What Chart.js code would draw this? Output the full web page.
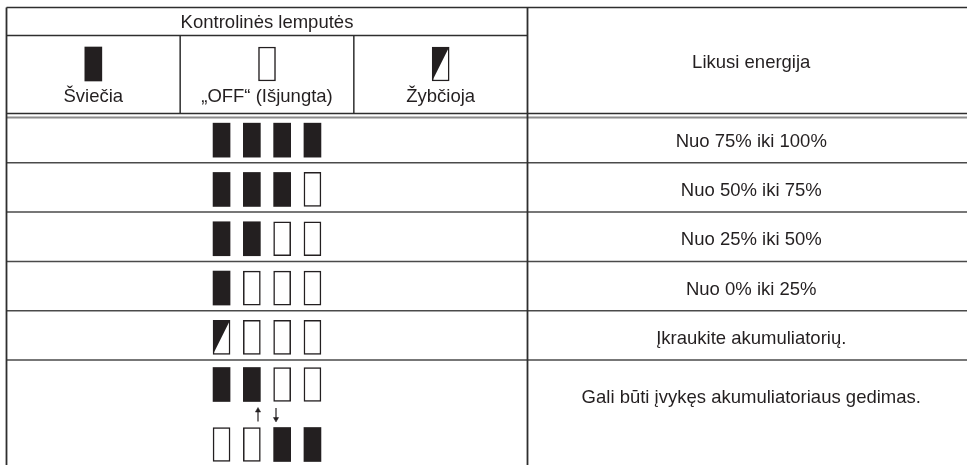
<!DOCTYPE html>
<html>
<head>
<meta charset="utf-8">
<script src="https://cdn.jsdelivr.net/npm/chart.js@4/dist/chart.umd.min.js"></script>
<style>
  html, body { margin: 0; padding: 0; background: #fff; }
  canvas { display: block; }
</style>
</head>
<body>
<canvas id="canvas" width="967" height="465"></canvas>
<script>
// header texts
var titleText = 'Kontrolinės lemputės';
var energyTitle = 'Likusi energija';
// legend: lamp state and its name
var legendStates = ['on', 'off', 'flash'];
var legendLabels = ['Šviečia', '„OFF“ (Išjungta)', 'Žybčioja'];
// lamp states for each row and the remaining energy text
var rowLamps = [
    ['on', 'on', 'on', 'on'],
    ['on', 'on', 'on', 'off'],
    ['on', 'on', 'off', 'off'],
    ['on', 'off', 'off', 'off'],
    ['flash', 'off', 'off', 'off']
];
var rowTexts = [
    'Nuo 75% iki 100%',
    'Nuo 50% iki 75%',
    'Nuo 25% iki 50%',
    'Nuo 0% iki 25%',
    'Įkraukite akumuliatorių.'
];
// last row: two lamp lines switching back and forth
var faultLamps = [
    ['on', 'on', 'off', 'off'],
    ['off', 'off', 'on', 'on']
];
var faultArrows = ['up', 'down'];
var faultText = 'Gali būti įvykęs akumuliatoriaus gedimas.';

// table geometry (scale units)
var W = 967, H = 465;
var tableLeft = 6.5, tableRight = 975, divider = 527.5;
var topLine = 7.5, titleLine = 35.5, headLine = 113.5, headLine2 = 117.5;
var rowHeight = 49.3, contentShift = 2;
var lampW = 17, lampH = 34, lampStep = 30.3;
var legendLampY = 64;
var faultTop = headLine + rowLamps.length * rowHeight;
var ink = '#231f20';
var font = '18.5px "Liberation Sans", Arial, sans-serif';

function lampX(j) { return (tableLeft + divider) / 2 + (j - 1.5) * lampStep; }
function legendX(k) { return tableLeft + (divider - tableLeft) * (k + 0.5) / 3; }
function rowMid(i) { return headLine + (i + 0.5) * rowHeight + contentShift; }
function lamp(x, cy) { return {x: x, y: [cy - lampH / 2, cy + lampH / 2]}; }

// collect the lamps per state
var lamps = {on: [], off: [], flash: []};
legendStates.forEach((s, k) => lamps[s].push(lamp(legendX(k), legendLampY)));
rowLamps.forEach((row, i) => row.forEach((s, j) => lamps[s].push(lamp(lampX(j), rowMid(i)))));
var faultMids = [faultTop + 24.5, faultTop + 84.5];
faultLamps.forEach((row, i) => row.forEach((s, j) => lamps[s].push(lamp(lampX(j), faultMids[i]))));

var datasets = [
    {lampState: 'on', data: lamps.on, backgroundColor: ink, borderWidth: 0},
    {lampState: 'off', data: lamps.off, backgroundColor: '#fff', borderColor: ink, borderWidth: 1.5},
    {lampState: 'flash', data: lamps.flash, backgroundColor: '#fff', borderColor: ink, borderWidth: 1.5}
].map(d => Object.assign(d, {type: 'bar', barThickness: lampW, grouped: false, borderSkipped: false}));

// arrows between the two lamp lines
var arrowTip = faultTop + 48, arrowTail = faultTop + 61.5, arrowGap = 9;
faultArrows.forEach((dir, i) => {
    var x = (tableLeft + divider) / 2 + (i === 0 ? -arrowGap : arrowGap);
    var head = dir === 'up' ? arrowTip + 2.5 : arrowTail - 2.5;
    var tail = dir === 'up' ? arrowTail : arrowTip;
    datasets.push({
        type: 'line',
        data: [{x: x, y: head}, {x: x, y: tail}],
        borderColor: ink, borderWidth: 1.2,
        pointStyle: 'triangle', pointRadius: [3, 0],
        pointRotation: dir === 'up' ? 0 : 180,
        pointBackgroundColor: ink, pointBorderColor: ink, pointBorderWidth: 0.5
    });
});

function line(ctx, xs, ys, x1, y1, x2, y2, color, width) {
    ctx.beginPath();
    ctx.strokeStyle = color;
    ctx.lineWidth = width;
    ctx.moveTo(xs.getPixelForValue(x1), ys.getPixelForValue(y1));
    ctx.lineTo(xs.getPixelForValue(x2), ys.getPixelForValue(y2));
    ctx.stroke();
}

var tablePlugin = {
    id: 'table',
    beforeDatasetsDraw(chart) {
        var ctx = chart.ctx, xs = chart.scales.x, ys = chart.scales.y;
        ctx.save();
        line(ctx, xs, ys, tableLeft, topLine, tableRight, topLine, '#2e2e2e', 1.5);
        line(ctx, xs, ys, tableLeft, titleLine, divider, titleLine, '#2e2e2e', 1.5);
        line(ctx, xs, ys, tableLeft, headLine, tableRight, headLine, '#2e2e2e', 1.5);
        line(ctx, xs, ys, tableLeft, headLine2, tableRight, headLine2, '#8c8c8c', 2);
        for (var k = 1; k < 3; k++) {
            var x = tableLeft + (divider - tableLeft) * k / 3;
            line(ctx, xs, ys, x, titleLine, x, headLine, '#2e2e2e', 1.5);
        }
        for (var i = 1; i <= rowLamps.length; i++) {
            var y = headLine + i * rowHeight;
            line(ctx, xs, ys, tableLeft, y, tableRight, y, '#4a4a4a', 1.5);
        }
        line(ctx, xs, ys, tableLeft, topLine, tableLeft, H + 5, '#2e2e2e', 1.8);
        line(ctx, xs, ys, divider, topLine, divider, H + 5, '#2e2e2e', 1.8);
        ctx.restore();
    },
    afterDatasetsDraw(chart) {
        var ctx = chart.ctx, xs = chart.scales.x, ys = chart.scales.y;
        ctx.save();
        // half filled flashing lamps
        chart.data.datasets.forEach((ds, di) => {
            if (ds.lampState !== 'flash') return;
            chart.getDatasetMeta(di).data.forEach(el => {
                var p = el.getProps(['x', 'y', 'base', 'width'], true);
                var l = p.x - p.width / 2, r = p.x + p.width / 2;
                var t = Math.min(p.y, p.base), b = Math.max(p.y, p.base);
                ctx.beginPath();
                ctx.fillStyle = ink;
                ctx.moveTo(l, t); ctx.lineTo(r, t); ctx.lineTo(l, b);
                ctx.closePath();
                ctx.fill();
            });
        });
        // texts
        ctx.font = font;
        ctx.fillStyle = ink;
        ctx.textAlign = 'center';
        ctx.textBaseline = 'middle';
        var rightMid = xs.getPixelForValue((divider + tableRight) / 2);
        ctx.fillText(titleText, xs.getPixelForValue((tableLeft + divider) / 2), ys.getPixelForValue((topLine + titleLine) / 2 + 1));
        legendLabels.forEach((t, k) => ctx.fillText(t, xs.getPixelForValue(legendX(k)), ys.getPixelForValue(97)));
        ctx.fillText(energyTitle, rightMid, ys.getPixelForValue((topLine + headLine) / 2 + 2));
        rowTexts.forEach((t, i) => ctx.fillText(t, rightMid, ys.getPixelForValue(rowMid(i) + 1.5)));
        ctx.fillText(faultText, rightMid, ys.getPixelForValue(faultTop + 38));
        ctx.restore();
    }
};

new Chart(document.getElementById('canvas'), {
    type: 'bar',
    data: {datasets: datasets},
    options: {
        responsive: false,
        animation: false,
        layout: {padding: 0, autoPadding: false},
        plugins: {legend: {display: false}, tooltip: {enabled: false}},
        scales: {
            x: {type: 'linear', min: 0, max: W, offset: false, display: false},
            y: {type: 'linear', min: 0, max: H, reverse: true, display: false}
        }
    },
    plugins: [tablePlugin]
});
</script>
</body>
</html>
